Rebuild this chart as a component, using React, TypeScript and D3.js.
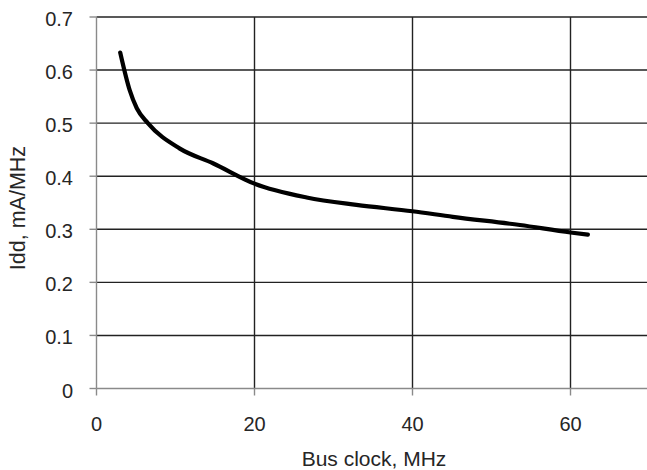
import React from "react";
import * as d3 from "d3";

const busClock = [3.0, 4.2, 5.1, 6.5, 10.5, 14.8, 20, 26.6, 32.9, 40, 45.1, 53.6, 60, 62.2];
const idd = [0.633, 0.562, 0.528, 0.5, 0.4525, 0.424, 0.386, 0.36, 0.346, 0.334, 0.3235, 0.308, 0.294, 0.29];
const xTicks = [0, 20, 40, 60];
const yTicks = [0, 0.1, 0.2, 0.3, 0.4, 0.5, 0.6, 0.7];
const xTitle = "Bus clock, MHz";
const yTitle = "Idd, mA/MHz";

const W = 647;
const H = 470;
const FONT = "'Liberation Sans', Arial, sans-serif";

export default function App() {
  const x = d3.scaleLinear().domain([0, 70]).range([96.5, 649.5]);
  const y = d3.scaleLinear().domain([0, 0.7]).range([388.5, 17]);
  const pts: [number, number][] = busClock.map((b, i) => [b, idd[i]]);
  const line = d3
    .line<[number, number]>()
    .x((d) => x(d[0]))
    .y((d) => y(d[1]))
    .curve(d3.curveMonotoneX);
  const fmt = (v: number) => (v === 0 ? "0" : d3.format(".1f")(v));
  return (
    <svg
      width={W}
      height={H}
      style={{ position: "absolute", left: 0, top: 0, background: "#fff" }}
    >
      <rect x={0} y={0} width={W} height={H} fill="#fff" />
      {yTicks
        .filter((t) => t > 0)
        .map((t) => (
          <line
            key={"hg" + t}
            x1={x(0)}
            x2={W}
            y1={y(t)}
            y2={y(t)}
            stroke="#222"
            strokeWidth={1.4}
          />
        ))}
      {xTicks
        .filter((t) => t > 0)
        .map((t) => (
          <line
            key={"vg" + t}
            x1={x(t)}
            x2={x(t)}
            y1={y(0.7)}
            y2={y(0)}
            stroke="#222"
            strokeWidth={1.4}
          />
        ))}
      <line x1={x(0)} x2={x(0)} y1={y(0.7)} y2={y(0)} stroke="#8a8a8a" strokeWidth={1.4} />
      <line x1={x(0)} x2={W} y1={y(0)} y2={y(0)} stroke="#8a8a8a" strokeWidth={1.4} />
      {yTicks.map((t) => (
        <line
          key={"yt" + t}
          x1={x(0) - 7}
          x2={x(0)}
          y1={y(t)}
          y2={y(t)}
          stroke="#8a8a8a"
          strokeWidth={1.4}
        />
      ))}
      {xTicks.map((t) => (
        <line
          key={"xt" + t}
          x1={x(t)}
          x2={x(t)}
          y1={y(0)}
          y2={y(0) + 7}
          stroke="#8a8a8a"
          strokeWidth={1.4}
        />
      ))}
      {yTicks.map((t) => (
        <text
          key={"yl" + t}
          x={73}
          y={y(t) + 9}
          textAnchor="end"
          fontFamily={FONT}
          fontSize={20}
          fill="#262626"
        >
          {fmt(t)}
        </text>
      ))}
      {xTicks.map((t) => (
        <text
          key={"xl" + t}
          x={x(t)}
          y={431}
          textAnchor="middle"
          fontFamily={FONT}
          fontSize={20}
          fill="#262626"
        >
          {t}
        </text>
      ))}
      <text
        x={374}
        y={466}
        textAnchor="middle"
        fontFamily={FONT}
        fontSize={21}
        fill="#262626"
      >
        {xTitle}
      </text>
      <text
        transform={`translate(25,208) rotate(-90)`}
        textAnchor="middle"
        fontFamily={FONT}
        fontSize={21.5}
        fill="#262626"
      >
        {yTitle}
      </text>
      <path
        d={line(pts) || ""}
        fill="none"
        stroke="#000"
        strokeWidth={4.2}
        strokeLinecap="round"
        strokeLinejoin="round"
      />
    </svg>
  );
}
